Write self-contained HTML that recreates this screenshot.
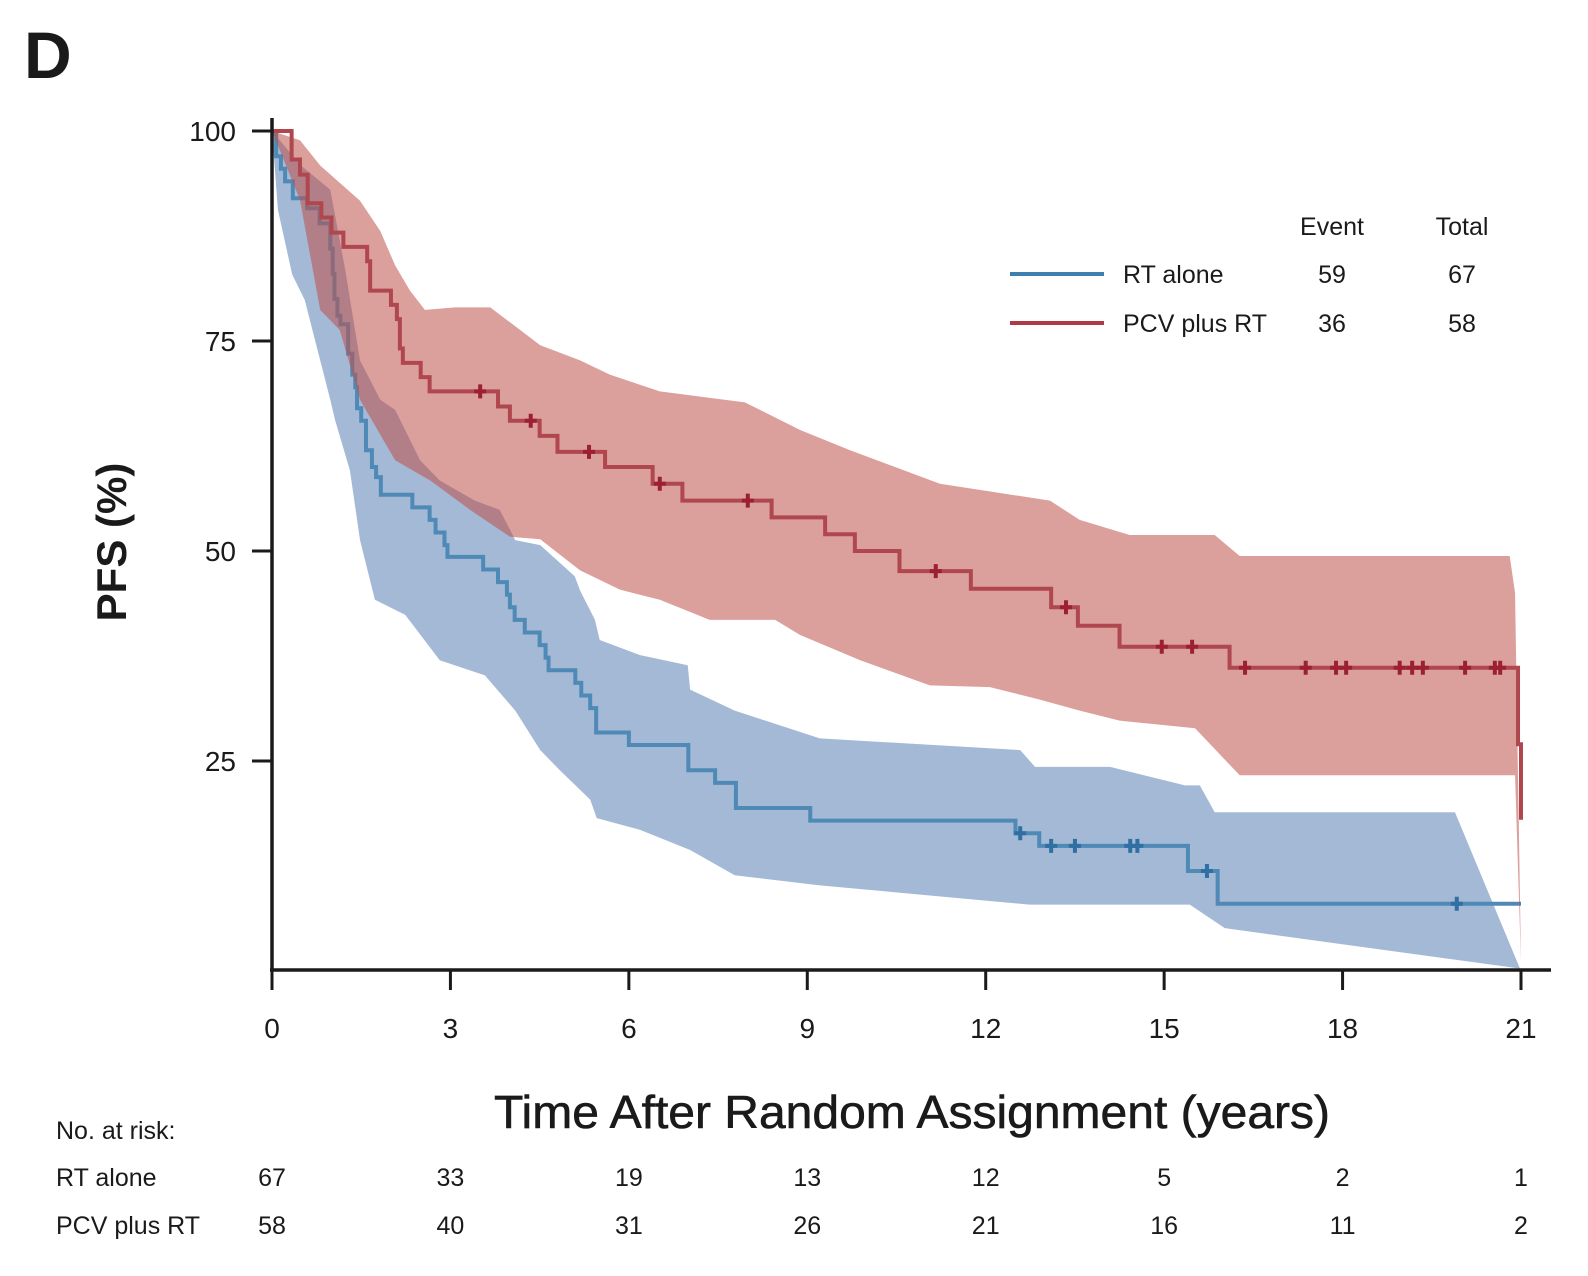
<!DOCTYPE html>
<html><head><meta charset="utf-8">
<style>
html,body{margin:0;padding:0;background:#fff;}
svg{display:block;font-family:"Liberation Sans",sans-serif;}
</style></head>
<body>
<svg id="chart" width="1588" height="1276" viewBox="0 0 1588 1276" xmlns="http://www.w3.org/2000/svg">
<text x="24" y="78" font-size="66" font-weight="bold" fill="#1a1a1a">D</text>
<g id="bands"></g>
<g id="lines"></g>
<g id="axes"></g>
<text transform="translate(126,542) rotate(-90)" text-anchor="middle" font-size="42" font-weight="bold" fill="#1a1a1a">PFS (%)</text>
<text x="912" y="1128" text-anchor="middle" font-size="46" textLength="836" lengthAdjust="spacingAndGlyphs" fill="#1a1a1a" stroke="#1a1a1a" stroke-width="0.6">Time After Random Assignment (years)</text>
<g font-size="25" fill="#1a1a1a">
<text x="1332" y="235" text-anchor="middle">Event</text>
<text x="1462" y="235" text-anchor="middle">Total</text>
<line x1="1010" y1="274" x2="1104" y2="274" stroke="#3f7fb0" stroke-width="4"/>
<text x="1123" y="283">RT alone</text>
<text x="1332" y="283" text-anchor="middle">59</text>
<text x="1462" y="283" text-anchor="middle">67</text>
<line x1="1010" y1="323" x2="1104" y2="323" stroke="#b03a44" stroke-width="4"/>
<text x="1123" y="332">PCV plus RT</text>
<text x="1332" y="332" text-anchor="middle">36</text>
<text x="1462" y="332" text-anchor="middle">58</text>
</g>
<g id="risk" font-size="25" fill="#1a1a1a">
<text x="56" y="1139">No. at risk:</text>
<text x="56" y="1186">RT alone</text>
<text x="56" y="1234">PCV plus RT</text>
</g>
</svg>
<script>
const xTicks=[0,3,6,9,12,15,18,21];
const yTicks=[25,50,75,100];
const riskRT=[67,33,19,13,12,5,2,1];
const riskPCV=[58,40,31,26,21,16,11,2];
// Kaplan-Meier steps [time, survival after drop]
const pcvTimes=[0.33,0.47,0.6,0.83,1.0,1.2,1.6,1.65,2.0,2.1,2.15,2.2,2.5,2.65,3.8,4.0,4.5,4.8,5.6,6.4,6.9,8.4,9.3,9.8,10.55,11.75,13.1,13.55,14.25,16.1,20.95,21.0];
const pcvSurv=[96.6,94.8,91.4,89.7,87.9,86.2,84.5,81,79.3,77.6,74.1,72.4,70.7,69,67.2,65.5,63.7,61.8,60,58,56,54,52,50,47.6,45.5,43.3,41.1,38.6,36.1,27,18];
const pcvCensor=[3.5,4.35,5.33,6.52,8.0,11.16,13.35,14.96,15.47,16.36,17.38,17.89,18.06,18.96,19.17,19.35,20.06,20.56,20.65];
const rtTimes=[0.07,0.15,0.22,0.35,0.59,0.8,0.98,1.02,1.05,1.1,1.15,1.28,1.35,1.4,1.43,1.5,1.58,1.68,1.75,1.83,2.36,2.65,2.75,2.9,2.95,3.55,3.8,3.95,4.0,4.08,4.25,4.5,4.6,4.65,5.1,5.2,5.35,5.45,6.0,7.0,7.45,7.8,9.05,12.5,12.9,15.4,15.9];
const rtSurv=[97,95.5,94,92,90.8,89,86,83,80,78,77,73.5,71,69.5,67,65.5,62,60,58.8,56.7,55.2,53.7,52.2,50.7,49.3,47.8,46.3,44.8,43.3,41.8,40.3,38.8,37.3,35.8,34.3,32.8,31.3,28.4,26.9,23.9,22.4,19.4,17.9,16.4,14.9,11.9,8];
const rtCensor=[12.58,13.1,13.5,14.43,14.55,15.72,19.92];
const rtEnd=21;
// confidence bands
const pcvHiT=[0,0.47,0.81,1.48,1.82,2.07,2.32,2.57,3.08,3.67,4.51,5.18,5.68,6.52,7.95,8.88,9.72,11.23,13.08,13.58,14.42,15.85,16.27,20.81,20.9,21];
const pcvHiV=[100,98.9,95.9,91.7,88.1,84,81,78.7,79,79,74.5,72.7,71,69,67.7,64.4,62,58,56,53.7,51.9,51.9,49.4,49.4,45,1];
const pcvLoT=[0,0.47,0.81,1.14,1.48,2.07,2.66,3.33,4.0,4.51,5.18,5.85,6.52,7.36,8.46,8.88,9.89,11.06,12.07,12.91,13.58,14.25,15.52,16.27,20.9,21];
const pcvLoV=[100,91.8,78.7,76.3,68,60.8,58.4,54.9,51.7,51.4,47.7,45.4,44.2,41.8,41.8,40,37,34,33.8,32.3,31,29.8,28.9,23.3,23.3,1];
const rtHiT=[0,0.47,0.98,1.23,1.48,1.82,2.07,2.49,2.82,3.41,3.83,4.09,4.51,5.09,5.18,5.43,5.51,6.19,6.99,7.03,7.78,9.21,12.58,12.83,14.09,15.35,15.6,15.85,19.89,21];
const rtHiV=[100,96,93,83.5,72.7,68,66.8,60.8,58.4,56,54.9,51.3,50.7,47,45.3,41.8,39.4,37.6,36.4,33.5,31,27.7,26.3,24.3,24.3,22.1,22.1,18.9,18.9,0];
const rtLoT=[0,0.1,0.34,0.55,0.98,1.06,1.31,1.48,1.73,2.24,2.82,3.58,4.09,4.51,4.84,5.35,5.46,6.19,7.03,7.78,9.21,12.74,15.43,16.02,20.98];
const rtLoV=[100,90.6,82.9,79.9,68,65.6,59.6,51.3,44.2,42.4,37,35.2,31,26.3,23.9,20.4,18.2,16.8,14.4,11.4,10.2,7.9,7.9,5.1,0.3];

const X0=272,X1=1521,Y0=971,YT=131;
const sx=t=>X0+(X1-X0)*t/21;
const sy=v=>Y0-(Y0-YT)*v/100;
const NS='http://www.w3.org/2000/svg';
function mk(tag,parent,attrs){const e=document.createElementNS(NS,tag);for(const k in attrs)e.setAttribute(k,attrs[k]);parent.appendChild(e);return e;}
const bands=document.getElementById('bands'),lines=document.getElementById('lines'),axes=document.getElementById('axes'),risk=document.getElementById('risk');

function band(hT,hV,lT,lV,fill,op,name){
  let pts=hT.map((t,i)=>sx(t)+','+sy(hV[i]));
  for(let i=lT.length-1;i>=0;i--)pts.push(sx(lT[i])+','+sy(lV[i]));
  const p=mk('polygon',bands,{points:pts.join(' '),fill:fill,'fill-opacity':op});
  
  
  return p;
}
function stepPath(times,surv,end){
  let d='M'+sx(0)+','+sy(100);
  times.forEach((t,i)=>{d+=' H'+sx(t)+' V'+sy(surv[i]);});
  if(end!==undefined)d+=' H'+sx(end);
  return d;
}
function survAt(times,surv,t){let s=100;for(let i=0;i<times.length;i++){if(times[i]<=t)s=surv[i];}return s;}
function censors(list,times,surv,color,name,parent){
  list.forEach(t=>{
    const g=mk('path',parent,{d:'M'+(sx(t)-6)+','+sy(survAt(times,surv,t))+' h12 M'+sx(t)+','+(sy(survAt(times,surv,t))-7)+' v14',stroke:color,'stroke-width':4,fill:'none'});
    
    
  });
}
band(rtHiT,rtHiV,rtLoT,rtLoV,'#a4b9d6',1,'rt-alone-ci-band');
const bl=mk('path',bands,{d:stepPath(rtTimes,rtSurv,rtEnd),stroke:'#4f89b5',"stroke-width":4,fill:'none'});


censors(rtCensor,rtTimes,rtSurv,'#2f6fa2','rt-alone-censor-mark',bands);
band(pcvHiT,pcvHiV,pcvLoT,pcvLoV,'#be504b',0.55,'pcv-plus-rt-ci-band');
const rl=mk('path',lines,{d:stepPath(pcvTimes,pcvSurv),stroke:'#b0474e',"stroke-width":4,fill:'none'});


censors(pcvCensor,pcvTimes,pcvSurv,'#9b2132','pcv-plus-rt-censor-mark',lines);

const ya=mk('line',axes,{x1:X0,y1:118,x2:X0,y2:971,stroke:'#1a1a1a','stroke-width':3.5});


const xa=mk('line',axes,{x1:X0-2,y1:970,x2:1551,y2:970,stroke:'#1a1a1a','stroke-width':3.5});


yTicks.forEach(v=>{
  const l=mk('line',axes,{x1:X0-20,y1:sy(v),x2:X0,y2:sy(v),stroke:'#1a1a1a','stroke-width':3});
  
  
  const t=mk('text',axes,{x:236,y:sy(v)+10,'text-anchor':'end','font-size':28,fill:'#1a1a1a'});
  t.textContent=v;
  
  
});
xTicks.forEach((v,i)=>{
  const l=mk('line',axes,{x1:sx(v),y1:970,x2:sx(v),y2:990,stroke:'#1a1a1a','stroke-width':3});
  
  
  const t=mk('text',axes,{x:sx(v),y:1038,'text-anchor':'middle','font-size':28,fill:'#1a1a1a'});
  t.textContent=v;
  
  
  const a=mk('text',risk,{x:sx(v),y:1186,'text-anchor':'middle'});
  a.textContent=riskRT[i];
  
  
  const b=mk('text',risk,{x:sx(v),y:1234,'text-anchor':'middle'});
  b.textContent=riskPCV[i];
  
  
});
</script>
</body></html>
